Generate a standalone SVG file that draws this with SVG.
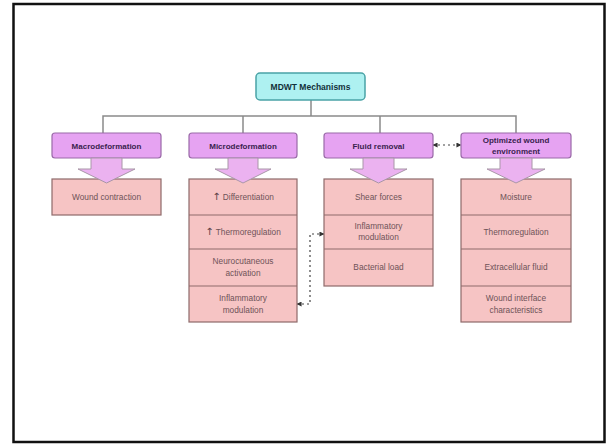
<svg xmlns="http://www.w3.org/2000/svg" width="608" height="445" viewBox="0 0 608 445">
<defs>
<style>
.hdr{fill:#e6a3f2;stroke:#9a6aa8;stroke-width:1.2}
.item{fill:#f6c4c4;stroke:#8e6a6a;stroke-width:1.2}
.barrow{fill:#ebb2f0;stroke:#a996a8;stroke-width:1}
.tree{fill:none;stroke:#8a8a8a;stroke-width:1.5}
.dot{fill:none;stroke:#444;stroke-width:1.2;stroke-dasharray:2 3}
.ht{font-family:"Liberation Sans",Arial,sans-serif;font-size:8px;font-weight:bold;fill:#3a1f4f;text-anchor:middle}
.it{font-family:"Liberation Sans",Arial,sans-serif;font-size:8.3px;fill:#6e5358;text-anchor:middle}
.up{font-family:"DejaVu Sans",sans-serif;font-size:10px;fill:#5a4045}
</style>
<marker id="ah" viewBox="0 0 6 6" refX="5.5" refY="3" markerWidth="5" markerHeight="5" orient="auto-start-reverse" markerUnits="userSpaceOnUse">
<path d="M0,0 L6,3 L0,6 z" fill="#333"/>
</marker>
</defs>
<rect x="0" y="0" width="608" height="445" fill="#ffffff"/>
<rect x="13.5" y="4" width="591" height="438" fill="none" stroke="#111" stroke-width="2.5"/>

<g id="connectors">
<path class="tree" d="M311,100 V116 M103,133 V116 H516 V133 M243,116 V133 M380,116 V133"/>
<path class="dot" d="M297,304 H310 V234 H324" marker-start="url(#ah)" marker-end="url(#ah)"/>
<path class="dot" d="M433,145 H461" marker-start="url(#ah)" marker-end="url(#ah)"/>
</g>

<g id="root">
<rect x="256" y="73" width="109" height="27" rx="4" fill="#aef1f1" stroke="#4aa3a6" stroke-width="1.5"/>
<text class="ht" x="310.5" y="89.5" style="fill:#12303a;font-size:8.5px">MDWT Mechanisms</text>
</g>

<g id="macro">
<rect class="item" x="52" y="179" width="109" height="36"/>
<text class="it" x="106.5" y="200">Wound contraction</text>
<rect class="hdr" x="52" y="133" width="109" height="25" rx="3"/>
<text class="ht" x="106.5" y="148.5">Macrodeformation</text>
<path class="barrow" d="M91,158 H122 V169 H135 L106.5,183 L78,169 H91 Z"/>
</g>

<g id="micro">
<rect class="item" x="189" y="179" width="108" height="143"/>
<path d="M189,215 H297 M189,249 H297 M189,286 H297" stroke="#8e6a6a" stroke-width="1.2"/>
<text class="it" x="243" y="200"><tspan class="up">↑</tspan> Differentiation</text>
<text class="it" x="243" y="235"><tspan class="up">↑</tspan> Thermoregulation</text>
<text class="it" x="243" y="264">Neurocutaneous</text>
<text class="it" x="243" y="276">activation</text>
<text class="it" x="243" y="301">Inflammatory</text>
<text class="it" x="243" y="313">modulation</text>
<rect class="hdr" x="189" y="133" width="108" height="25" rx="3"/>
<text class="ht" x="243" y="148.5">Microdeformation</text>
<path class="barrow" d="M228,158 H258 V169 H271 L243,183 L215,169 H228 Z"/>
</g>

<g id="fluid">
<rect class="item" x="324" y="179" width="109" height="107"/>
<path d="M324,215 H433 M324,249 H433" stroke="#8e6a6a" stroke-width="1.2"/>
<text class="it" x="378.5" y="200">Shear forces</text>
<text class="it" x="378.5" y="229">Inflammatory</text>
<text class="it" x="378.5" y="240">modulation</text>
<text class="it" x="378.5" y="270">Bacterial load</text>
<rect class="hdr" x="324" y="133" width="109" height="25" rx="3"/>
<text class="ht" x="378.5" y="148.5">Fluid removal</text>
<path class="barrow" d="M363,158 H394 V169 H407 L378.5,183 L350,169 H363 Z"/>
</g>

<g id="optimized">
<rect class="item" x="461" y="179" width="110" height="143"/>
<path d="M461,215 H571 M461,249 H571 M461,286 H571" stroke="#8e6a6a" stroke-width="1.2"/>
<text class="it" x="516" y="200">Moisture</text>
<text class="it" x="516" y="235">Thermoregulation</text>
<text class="it" x="516" y="270">Extracellular fluid</text>
<text class="it" x="516" y="301">Wound interface</text>
<text class="it" x="516" y="313">characteristics</text>
<rect class="hdr" x="461" y="133" width="110" height="25" rx="3"/>
<text class="ht" x="516" y="143">Optimized wound</text>
<text class="ht" x="516" y="153.5">environment</text>
<path class="barrow" d="M500,158 H532 V169 H545 L516,183 L487,169 H500 Z"/>
</g>
</svg>
